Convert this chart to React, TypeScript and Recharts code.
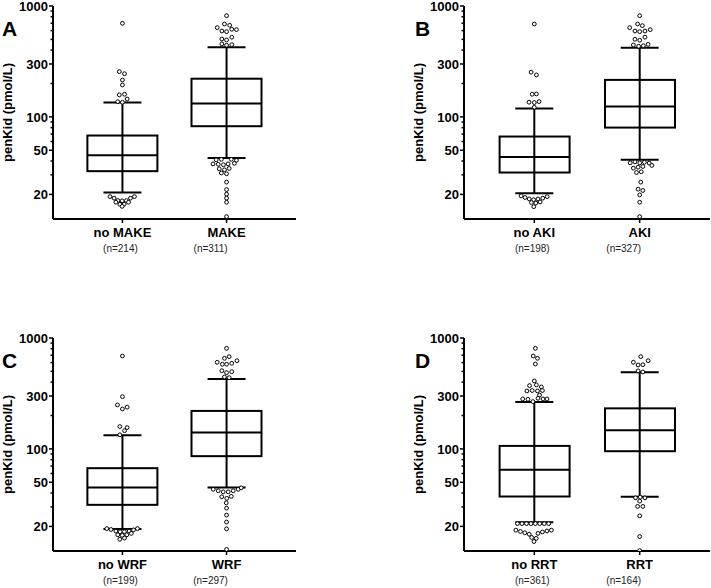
import { Bar, ComposedChart, ErrorBar, Label, Scatter, XAxis, YAxis } from "recharts"

const FONT = "'Liberation Sans', Arial, sans-serif"

type Pt = [number, number]

// A: MAKE
const namesA = ["no MAKE", "MAKE"]
const countsA = ["(n=214)", "(n=311)"]
const lowA = [20.8, 42.5]
const q1A = [32.4, 82.4]
const medA = [45.2, 132]
const q3A = [67.9, 221]
const highA = [134.5, 425]
const outA: Pt[] = [
  [1.0, 698], [0.97, 256], [1.02, 245], [1.0, 215], [1.0, 194], [0.97, 158], [1.02, 160], [1.045, 145], [0.955, 137], [1.0, 135.5],
  [0.88, 19.1], [0.92, 18.5], [1.077, 18.5], [1.115, 19.1], [0.956, 17.6], [0.997, 17.5], [1.038, 17.6], [0.937, 17.0], [1.058, 17.0],
  [0.975, 16.3], [1.016, 16.3], [0.997, 15.6],
  [2.0, 818], [1.98, 688], [2.03, 670], [1.91, 638], [1.955, 595], [2.0, 587], [2.05, 617], [2.095, 612], [2.05, 523], [1.955, 504],
  [2.0, 494], [1.955, 455], [2.0, 443], [2.05, 448],
  [1.9, 41.0], [1.95, 41.4], [2.045, 41.4], [2.095, 40.6], [1.87, 37.7], [1.92, 37.4], [1.97, 37.0], [2.015, 37.7], [2.075, 38.1],
  [1.93, 34.0], [1.98, 33.3], [2.025, 34.3], [1.95, 31.2], [2.0, 30.7], [2.0, 25.8], [2.0, 22.1], [2.0, 20.1], [2.0, 18.5], [2.0, 17.0], [2.0, 12.6],
]

// B: AKI
const namesB = ["no AKI", "AKI"]
const countsB = ["(n=198)", "(n=327)"]
const lowB = [20.5, 41]
const q1B = [31.5, 80.1]
const medB = [43.4, 124]
const q3B = [66.5, 215.6]
const highB = [118.8, 421]
const outB: Pt[] = [
  [1.0, 688], [0.97, 253], [1.02, 239], [0.98, 160], [1.02, 161], [0.95, 135.6], [1.0, 134.5], [1.045, 137.4], [1.0, 122],
  [0.875, 19.4], [0.913, 18.75], [0.952, 18.2], [0.993, 17.9], [1.035, 18.2], [1.08, 18.5], [1.122, 19.1], [0.972, 16.9], [1.014, 16.7], [1.055, 17.1], [0.995, 15.5],
  [2.0, 818], [1.98, 688], [2.025, 665], [1.905, 638], [1.955, 595], [2.0, 587], [2.05, 595], [2.1, 612], [2.05, 523], [1.955, 501],
  [2.0, 491], [1.94, 445], [1.99, 433], [2.035, 438], [2.08, 451],
  [1.91, 38.5], [1.955, 39.3], [2.0, 38.5], [2.045, 39.0], [2.09, 38.3], [2.115, 36.5], [1.94, 34.5], [1.985, 35.2], [2.03, 35.7],
  [1.97, 31.5], [2.015, 32.0], [2.01, 25.8], [1.985, 22.3], [2.03, 21.7], [2.0, 19.8], [2.0, 17.0], [2.0, 12.6],
]

// C: WRF
const namesC = ["no WRF", "WRF"]
const countsC = ["(n=199)", "(n=297)"]
const lowC = [18.9, 44.8]
const q1C = [31.3, 86]
const medC = [44.8, 140.3]
const q3C = [67.0, 220]
const highC = [132.8, 427.6]
const outC: Pt[] = [
  [1.0, 688], [1.0, 296], [0.952, 249], [1.0, 229], [1.045, 238], [0.975, 159], [1.045, 155.6], [1.02, 146], [0.975, 134],
  [0.85, 19.1], [0.89, 18.75], [0.937, 18.15], [0.978, 17.9], [1.019, 17.9], [1.064, 18.15], [1.106, 18.6], [1.144, 19.1],
  [0.955, 16.8], [0.998, 16.6], [1.042, 16.8], [1.085, 17.3], [0.975, 15.3], [1.02, 15.7],
  [2.0, 807], [1.98, 656], [2.025, 679], [1.91, 604], [1.96, 580], [2.0, 580], [2.05, 592], [2.1, 624], [1.955, 507], [2.0, 487],
  [2.05, 497], [1.98, 445], [2.025, 439],
  [1.872, 43.2], [1.92, 41.9], [1.968, 41.0], [2.016, 41.0], [2.064, 41.9], [2.112, 43.2], [2.141, 44.6], [1.954, 37.0], [2.002, 35.8],
  [2.045, 37.3], [1.997, 32.6], [2.0, 29.2], [2.0, 25.3], [2.0, 21.9], [2.0, 19.0], [2.0, 12.4],
]

// D: RRT
const namesD = ["no RRT", "RRT"]
const countsD = ["(n=361)", "(n=164)"]
const lowD = [21.8, 37]
const q1D = [37.2, 95.3]
const medD = [64.7, 147]
const q3D = [106.4, 232]
const highD = [265, 491]
const outD: Pt[] = [
  [1.01, 807], [0.99, 688], [1.03, 656], [1.01, 583], [1.0, 410], [0.955, 372], [1.02, 378], [1.067, 362], [0.93, 333], [0.98, 336],
  [1.03, 333], [1.077, 336], [1.05, 306], [0.89, 282], [0.94, 280], [0.987, 267], [1.035, 286], [1.083, 282], [1.12, 282],
  [0.84, 21.2], [0.883, 21.2], [0.926, 21.2], [0.968, 21.2], [1.01, 21.2], [1.052, 21.2], [1.094, 21.2], [1.136, 21.2],
  [0.825, 18.5], [0.868, 18.0], [0.91, 17.5], [0.952, 17.0], [1.035, 17.3], [1.077, 17.8], [1.12, 18.2], [1.162, 18.5],
  [0.975, 15.9], [1.018, 15.6], [0.997, 14.6],
  [2.01, 679], [1.94, 604], [1.985, 571], [2.03, 574], [2.08, 624], [1.985, 505], [2.03, 494],
  [1.96, 36.2], [2.005, 36.7], [2.05, 36.2], [2.0, 33.8], [1.98, 30.3], [2.03, 30.3], [2.0, 24.9], [2.0, 16.2], [2.0, 12.1],
]

const yTicks = [20, 30, 40, 50, 60, 70, 80, 90, 100, 200, 300, 400, 500, 600, 700, 800, 900, 1000]
const yLabelled = [20, 50, 100, 300, 1000]
const xDomain = [0.333, 2.667]

function YTick(props: any) {
  const { x, y, payload } = props
  const major = yLabelled.includes(payload.value)
  return (
    <g>
      <line x1={x + (major ? 0 : 1.5)} x2={x + 4} y1={y} y2={y} stroke="#000" strokeWidth={1.5} />
      {major && (
        <text x={x - 1} y={y} dy="0.36em" textAnchor="end" fontSize={13} fontWeight="bold" fontFamily={FONT} fill="#000">
          {payload.value}
        </text>
      )}
    </g>
  )
}

function XTick(props: any) {
  const { x, y, payload, names, counts } = props
  const i = payload.value - 1
  const shift = i === 0 ? -2 : -16
  return (
    <g>
      <text x={x} y={y + 12.3} textAnchor="middle" fontSize={13} fontWeight="bold" fontFamily={FONT} fill="#000">
        {names[i]}
      </text>
      <text x={x + shift} y={y + 26.5} textAnchor="middle" fontSize={10} fontFamily={FONT} fill="#222">
        {counts[i]}
      </text>
    </g>
  )
}

const renderYLabel = (props: any) => {
  const vb = props.viewBox
  const cx = vb.x + vb.width - 41
  const cy = vb.y + vb.height / 2
  return (
    <text x={cx} y={cy} transform={`rotate(-90 ${cx} ${cy})`} textAnchor="middle" fontSize={13} fontWeight="bold" fontFamily={FONT} fill="#000">
      penKid (pmol/L)
    </text>
  )
}

const BoxShape = (p: any) => {
  const top = Math.min(p.y, p.y + p.height)
  return <rect x={p.x} y={top} width={p.width} height={Math.abs(p.height)} fill="#fff" stroke="#000" strokeWidth={2} />
}

const MedianShape = (p: any) => <line x1={p.cx - 35} x2={p.cx + 35} y1={p.cy} y2={p.cy} stroke="#000" strokeWidth={2} />

const DotShape = (p: any) => <circle cx={p.cx} cy={p.cy} r={1.9} fill="#fff" stroke="#000" strokeWidth={1} />

type PanelProps = {
  names: string[]
  counts: string[]
  low: number[]
  q1: number[]
  med: number[]
  q3: number[]
  high: number[]
  outliers: Pt[]
  left: number
  top: number
  width: number
}

function Panel({ names, counts, low, q1, med, q3, high, outliers, left, top, width }: PanelProps) {
  const boxes = names.map((name, i) => ({
    x: i + 1,
    name,
    box: [q1[i], q3[i]],
    median: med[i],
    whisker: [med[i] - low[i], high[i] - med[i]],
  }))
  const points = outliers.map(([x, y]) => ({ x, y }))

  return (
    <div style={{ position: "absolute", left, top }}>
      <ComposedChart width={width} height={270} data={boxes} margin={{ top: 6, right: 4, bottom: 6, left: 0 }}>
        <XAxis
          xAxisId="main"
          type="number"
          dataKey="x"
          domain={xDomain}
          ticks={[1, 2]}
          allowDataOverflow
          interval={0}
          height={45}
          tickSize={4}
          tickMargin={2}
          axisLine={{ stroke: "#000", strokeWidth: 2 }}
          tickLine={{ stroke: "#000", strokeWidth: 1.5 }}
          tick={(p: any) => <XTick {...p} names={names} counts={counts} />}
        />
        <XAxis xAxisId="box" type="number" dataKey="x" domain={xDomain} allowDataOverflow height={0} hide />
        <YAxis
          type="number"
          scale="log"
          domain={[12, 1000]}
          allowDataOverflow
          ticks={yTicks}
          interval={0}
          width={53}
          tickSize={4}
          tickMargin={0}
          axisLine={{ stroke: "#000", strokeWidth: 2 }}
          tickLine={false}
          tick={<YTick />}
          label={<Label content={renderYLabel} />}
        />
        <Scatter xAxisId="box" data={boxes} dataKey="median" shape={() => <g />} isAnimationActive={false}>
          <ErrorBar dataKey="whisker" direction="y" width={19} stroke="#000" strokeWidth={2} isAnimationActive={false} />
        </Scatter>
        <Bar xAxisId="box" dataKey="box" barSize={70} shape={BoxShape} isAnimationActive={false} />
        <Scatter xAxisId="box" data={boxes} dataKey="median" shape={MedianShape} isAnimationActive={false} />
        <Scatter xAxisId="main" data={points} dataKey="y" shape={DotShape} isAnimationActive={false} />
      </ComposedChart>
    </div>
  )
}

export default function App() {
  return (
    <div style={{ position: "absolute", left: 0, top: 0, width: 711, height: 588, background: "#fff", fontFamily: FONT }}>
      <Panel names={namesA} counts={countsA} low={lowA} q1={q1A} med={medA} q3={q3A} high={highA} outliers={outA} left={0} top={0} width={300} />
      <Panel names={namesB} counts={countsB} low={lowB} q1={q1B} med={medB} q3={q3B} high={highB} outliers={outB} left={411} top={0} width={303} />
      <Panel names={namesC} counts={countsC} low={lowC} q1={q1C} med={medC} q3={q3C} high={highC} outliers={outC} left={0} top={332} width={300} />
      <Panel names={namesD} counts={countsD} low={lowD} q1={q1D} med={medD} q3={q3D} high={highD} outliers={outD} left={411} top={332} width={303} />
      <svg width={711} height={588} style={{ position: "absolute", left: 0, top: 0, pointerEvents: "none" }}>
        <g fontFamily={FONT} fontWeight="bold" fontSize={21} fill="#000">
          <text x={2} y={36}>A</text>
          <text x={415} y={36}>B</text>
          <text x={2} y={368}>C</text>
          <text x={415} y={368}>D</text>
        </g>
      </svg>
    </div>
  )
}
